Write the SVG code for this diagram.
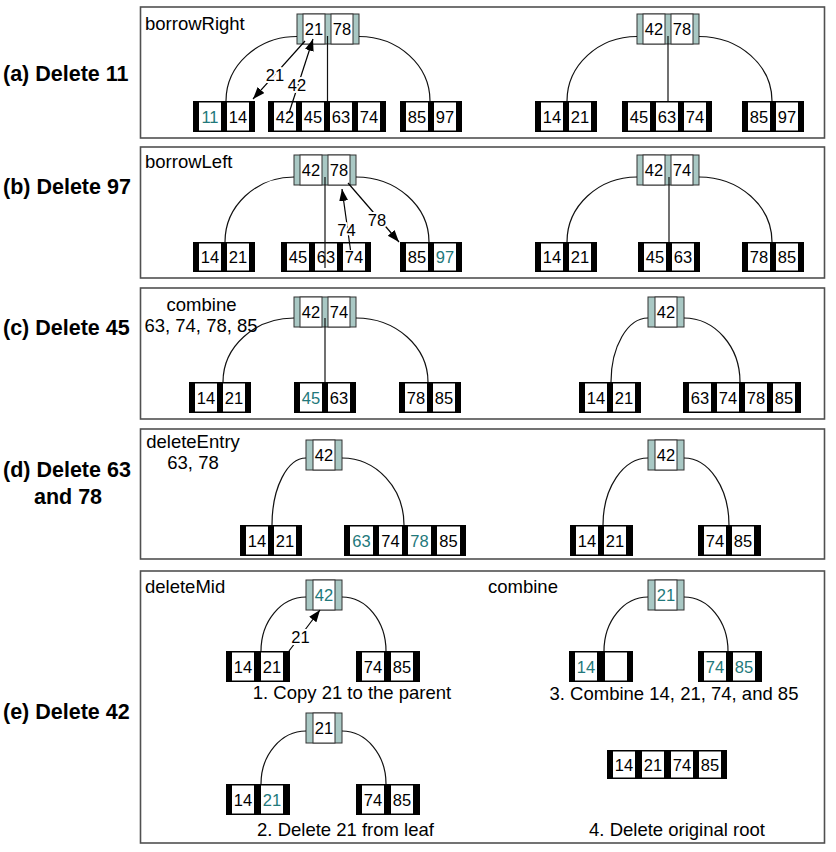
<svg xmlns="http://www.w3.org/2000/svg" width="836" height="852" viewBox="0 0 836 852">
<style>
.panel{fill:#fff;stroke:#505050;stroke-width:1.6}
.inode{fill:#a9c8c4;stroke:#333;stroke-width:1}
.ikey{fill:#fff;stroke:#333;stroke-width:1}
.leaf{fill:#000}
.lkey{fill:#fff}
.k{font-family:"Liberation Sans",Arial,sans-serif;font-size:16.5px;text-anchor:middle;fill:#000}
.t{fill:#22787a}
.lbl{font-family:"Liberation Sans",Arial,sans-serif;font-size:18.5px;fill:#000}
.mid{text-anchor:middle}
.bold{font-family:"Liberation Sans",Arial,sans-serif;font-size:21.5px;font-weight:bold;fill:#000}
.edge{fill:none;stroke:#111;stroke-width:1.2}
.arr{fill:none;stroke:#000;stroke-width:1.2;marker-end:url(#ah)}
.alab{paint-order:stroke;stroke:#fff;stroke-width:4px;stroke-linejoin:round}
</style>
<defs>
<marker id="ah" markerUnits="userSpaceOnUse" markerWidth="13" markerHeight="10" refX="12" refY="4.5" orient="auto">
<path d="M0,0 L12,4.5 L0,9 z" fill="#000"/>
</marker>
</defs>
<rect width="836" height="852" fill="#fff"/>

<g id="panels">
<rect class="panel" x="140.5" y="7" width="684" height="131"/>
<rect class="panel" x="140.5" y="147" width="684" height="131"/>
<rect class="panel" x="140.5" y="288" width="684" height="131"/>
<rect class="panel" x="140.5" y="429" width="684" height="130"/>
<rect class="panel" x="140.5" y="571" width="684" height="272"/>
</g>

<g id="labels">
<text class="bold" x="3" y="80.5">(a) Delete 11</text>
<text class="bold" x="3" y="193.5">(b) Delete 97</text>
<text class="bold" x="3" y="334.5">(c) Delete 45</text>
<text class="bold" x="3" y="476.5">(d) Delete 63</text>
<text class="bold mid" x="68" y="503.5">and 78</text>
<text class="bold" x="3" y="718.5">(e) Delete 42</text>
<text class="lbl" x="145" y="30">borrowRight</text>
<text class="lbl" x="145" y="168">borrowLeft</text>
<text class="lbl mid" x="201.5" y="311">combine</text>
<text class="lbl mid" x="201" y="331.5">63, 74, 78, 85</text>
<text class="lbl mid" x="193" y="448">deleteEntry</text>
<text class="lbl mid" x="193" y="469">63, 78</text>
<text class="lbl" x="145" y="593">deleteMid</text>
<text class="lbl" x="488" y="593">combine</text>
<text class="lbl mid" x="352" y="699">1. Copy 21 to the parent</text>
<text class="lbl mid" x="345.5" y="836">2. Delete 21 from leaf</text>
<text class="lbl mid" x="674" y="700">3. Combine 14, 21, 74, and 85</text>
<text class="lbl mid" x="677" y="836">4. Delete original root</text>
</g>

<!-- (a) left -->
<g id="a-L-root">
<rect class="inode" x="297" y="14" width="62" height="30"/>
<rect class="ikey" x="303" y="14" width="22" height="30"/>
<rect class="ikey" x="331" y="14" width="22" height="30"/>
<text class="k" x="314" y="35">21</text><text class="k" x="342" y="35">78</text>
</g>
<g id="a-L-leaf1">
<rect class="leaf" x="193" y="101" width="62" height="31"/>
<rect class="lkey" x="199" y="102.5" width="22" height="28"/><rect class="lkey" x="227" y="102.5" width="22" height="28"/>
<text class="k t" x="210" y="122.5">11</text><text class="k" x="238" y="122.5">14</text>
</g>
<g id="a-L-leaf2">
<rect class="leaf" x="268" y="101" width="118" height="31"/>
<rect class="lkey" x="274" y="102.5" width="22" height="28"/><rect class="lkey" x="302" y="102.5" width="22" height="28"/>
<rect class="lkey" x="330" y="102.5" width="22" height="28"/><rect class="lkey" x="358" y="102.5" width="22" height="28"/>
<text class="k" x="285" y="122.5">42</text><text class="k" x="313" y="122.5">45</text>
<text class="k" x="341" y="122.5">63</text><text class="k" x="369" y="122.5">74</text>
</g>
<g id="a-L-leaf3">
<rect class="leaf" x="400" y="101" width="62" height="31"/>
<rect class="lkey" x="406" y="102.5" width="22" height="28"/><rect class="lkey" x="434" y="102.5" width="22" height="28"/>
<text class="k" x="417" y="122.5">85</text><text class="k" x="445" y="122.5">97</text>
</g>
<!-- (a) right -->
<g id="a-R-root">
<rect class="inode" x="637" y="14" width="62" height="30"/>
<rect class="ikey" x="643" y="14" width="22" height="30"/>
<rect class="ikey" x="671" y="14" width="22" height="30"/>
<text class="k" x="654" y="35">42</text><text class="k" x="682" y="35">78</text>
</g>
<g id="a-R-leaf1">
<rect class="leaf" x="535" y="101" width="62" height="31"/>
<rect class="lkey" x="541" y="102.5" width="22" height="28"/><rect class="lkey" x="569" y="102.5" width="22" height="28"/>
<text class="k" x="552" y="122.5">14</text><text class="k" x="580" y="122.5">21</text>
</g>
<g id="a-R-leaf2">
<rect class="leaf" x="622" y="101" width="90" height="31"/>
<rect class="lkey" x="628" y="102.5" width="22" height="28"/><rect class="lkey" x="656" y="102.5" width="22" height="28"/>
<rect class="lkey" x="684" y="102.5" width="22" height="28"/>
<text class="k" x="639" y="122.5">45</text><text class="k" x="667" y="122.5">63</text><text class="k" x="695" y="122.5">74</text>
</g>
<g id="a-R-leaf3">
<rect class="leaf" x="742" y="101" width="62" height="31"/>
<rect class="lkey" x="748" y="102.5" width="22" height="28"/><rect class="lkey" x="776" y="102.5" width="22" height="28"/>
<text class="k" x="759" y="122.5">85</text><text class="k" x="787" y="122.5">97</text>
</g>

<!-- (b) left -->
<g id="b-L-root">
<rect class="inode" x="294" y="155" width="62" height="30"/>
<rect class="ikey" x="300" y="155" width="22" height="30"/>
<rect class="ikey" x="328" y="155" width="22" height="30"/>
<text class="k" x="311" y="176">42</text><text class="k" x="339" y="176">78</text>
</g>
<g id="b-L-leaf1">
<rect class="leaf" x="193" y="242" width="62" height="30"/>
<rect class="lkey" x="199" y="243.5" width="22" height="27"/><rect class="lkey" x="227" y="243.5" width="22" height="27"/>
<text class="k" x="210" y="263">14</text><text class="k" x="238" y="263">21</text>
</g>
<g id="b-L-leaf2">
<rect class="leaf" x="281" y="242" width="90" height="30"/>
<rect class="lkey" x="287" y="243.5" width="22" height="27"/><rect class="lkey" x="315" y="243.5" width="22" height="27"/>
<rect class="lkey" x="343" y="243.5" width="22" height="27"/>
<text class="k" x="298" y="263">45</text><text class="k" x="326" y="263">63</text><text class="k" x="354" y="263">74</text>
</g>
<g id="b-L-leaf3">
<rect class="leaf" x="400" y="242" width="62" height="30"/>
<rect class="lkey" x="406" y="243.5" width="22" height="27"/><rect class="lkey" x="434" y="243.5" width="22" height="27"/>
<text class="k" x="417" y="263">85</text><text class="k t" x="445" y="263">97</text>
</g>
<!-- (b) right -->
<g id="b-R-root">
<rect class="inode" x="637" y="155" width="62" height="30"/>
<rect class="ikey" x="643" y="155" width="22" height="30"/>
<rect class="ikey" x="671" y="155" width="22" height="30"/>
<text class="k" x="654" y="176">42</text><text class="k" x="682" y="176">74</text>
</g>
<g id="b-R-leaf1">
<rect class="leaf" x="535" y="242" width="62" height="30"/>
<rect class="lkey" x="541" y="243.5" width="22" height="27"/><rect class="lkey" x="569" y="243.5" width="22" height="27"/>
<text class="k" x="552" y="263">14</text><text class="k" x="580" y="263">21</text>
</g>
<g id="b-R-leaf2">
<rect class="leaf" x="638" y="242" width="62" height="30"/>
<rect class="lkey" x="644" y="243.5" width="22" height="27"/><rect class="lkey" x="672" y="243.5" width="22" height="27"/>
<text class="k" x="655" y="263">45</text><text class="k" x="683" y="263">63</text>
</g>
<g id="b-R-leaf3">
<rect class="leaf" x="742" y="242" width="62" height="30"/>
<rect class="lkey" x="748" y="243.5" width="22" height="27"/><rect class="lkey" x="776" y="243.5" width="22" height="27"/>
<text class="k" x="759" y="263">78</text><text class="k" x="787" y="263">85</text>
</g>

<!-- (c) left -->
<g id="c-L-root">
<rect class="inode" x="294" y="297" width="62" height="30"/>
<rect class="ikey" x="300" y="297" width="22" height="30"/>
<rect class="ikey" x="328" y="297" width="22" height="30"/>
<text class="k" x="311" y="318">42</text><text class="k" x="339" y="318">74</text>
</g>
<g id="c-L-leaf1">
<rect class="leaf" x="189" y="382" width="62" height="31"/>
<rect class="lkey" x="195" y="383.5" width="22" height="28"/><rect class="lkey" x="223" y="383.5" width="22" height="28"/>
<text class="k" x="206" y="403.5">14</text><text class="k" x="234" y="403.5">21</text>
</g>
<g id="c-L-leaf2">
<rect class="leaf" x="294" y="382" width="62" height="31"/>
<rect class="lkey" x="300" y="383.5" width="22" height="28"/><rect class="lkey" x="328" y="383.5" width="22" height="28"/>
<text class="k t" x="311" y="403.5">45</text><text class="k" x="339" y="403.5">63</text>
</g>
<g id="c-L-leaf3">
<rect class="leaf" x="399" y="382" width="62" height="31"/>
<rect class="lkey" x="405" y="383.5" width="22" height="28"/><rect class="lkey" x="433" y="383.5" width="22" height="28"/>
<text class="k" x="416" y="403.5">78</text><text class="k" x="444" y="403.5">85</text>
</g>
<!-- (c) right -->
<g id="c-R-root">
<rect class="inode" x="648" y="297" width="36" height="30"/>
<rect class="ikey" x="655" y="297" width="22" height="30"/>
<text class="k" x="666" y="318">42</text>
</g>
<g id="c-R-leaf1">
<rect class="leaf" x="579" y="382" width="62" height="31"/>
<rect class="lkey" x="585" y="383.5" width="22" height="28"/><rect class="lkey" x="613" y="383.5" width="22" height="28"/>
<text class="k" x="596" y="403.5">14</text><text class="k" x="624" y="403.5">21</text>
</g>
<g id="c-R-leaf2">
<rect class="leaf" x="683" y="382" width="118" height="31"/>
<rect class="lkey" x="689" y="383.5" width="22" height="28"/><rect class="lkey" x="717" y="383.5" width="22" height="28"/>
<rect class="lkey" x="745" y="383.5" width="22" height="28"/><rect class="lkey" x="773" y="383.5" width="22" height="28"/>
<text class="k" x="700" y="403.5">63</text><text class="k" x="728" y="403.5">74</text>
<text class="k" x="756" y="403.5">78</text><text class="k" x="784" y="403.5">85</text>
</g>

<!-- (d) left -->
<g id="d-L-root">
<rect class="inode" x="306" y="440" width="36" height="30"/>
<rect class="ikey" x="313" y="440" width="22" height="30"/>
<text class="k" x="324" y="461">42</text>
</g>
<g id="d-L-leaf1">
<rect class="leaf" x="240" y="525" width="62" height="31"/>
<rect class="lkey" x="246" y="526.5" width="22" height="28"/><rect class="lkey" x="274" y="526.5" width="22" height="28"/>
<text class="k" x="257" y="546.5">14</text><text class="k" x="285" y="546.5">21</text>
</g>
<g id="d-L-leaf2">
<rect class="leaf" x="344" y="525" width="122" height="31"/>
<rect class="lkey" x="350" y="526.5" width="23" height="28"/><rect class="lkey" x="379" y="526.5" width="23" height="28"/>
<rect class="lkey" x="408" y="526.5" width="23" height="28"/><rect class="lkey" x="437" y="526.5" width="23" height="28"/>
<text class="k t" x="361.5" y="546.5">63</text><text class="k" x="390.5" y="546.5">74</text>
<text class="k t" x="419.5" y="546.5">78</text><text class="k" x="448.5" y="546.5">85</text>
</g>
<!-- (d) right -->
<g id="d-R-root">
<rect class="inode" x="648" y="440" width="36" height="30"/>
<rect class="ikey" x="655" y="440" width="22" height="30"/>
<text class="k" x="666" y="461">42</text>
</g>
<g id="d-R-leaf1">
<rect class="leaf" x="570" y="525" width="63" height="31"/>
<rect class="lkey" x="576" y="526.5" width="22" height="28"/><rect class="lkey" x="604" y="526.5" width="22" height="28"/>
<text class="k" x="587" y="546.5">14</text><text class="k" x="615" y="546.5">21</text>
</g>
<g id="d-R-leaf2">
<rect class="leaf" x="698" y="525" width="63" height="31"/>
<rect class="lkey" x="704" y="526.5" width="22" height="28"/><rect class="lkey" x="732" y="526.5" width="22" height="28"/>
<text class="k" x="715" y="546.5">74</text><text class="k" x="743" y="546.5">85</text>
</g>

<!-- (e) left, step 1 -->
<g id="e1-root">
<rect class="inode" x="306" y="580" width="36" height="30"/>
<rect class="ikey" x="313" y="580" width="22" height="30"/>
<text class="k t" x="324" y="601">42</text>
</g>
<g id="e1-leaf1">
<rect class="leaf" x="226" y="651" width="64" height="31"/>
<rect class="lkey" x="232" y="652.5" width="22" height="28"/><rect class="lkey" x="261" y="652.5" width="22" height="28"/>
<text class="k" x="243" y="672.5">14</text><text class="k" x="272" y="672.5">21</text>
</g>
<g id="e1-leaf2">
<rect class="leaf" x="356" y="651" width="64" height="31"/>
<rect class="lkey" x="362" y="652.5" width="22" height="28"/><rect class="lkey" x="391" y="652.5" width="22" height="28"/>
<text class="k" x="373" y="672.5">74</text><text class="k" x="402" y="672.5">85</text>
</g>
<!-- (e) left, step 2 -->
<g id="e2-root">
<rect class="inode" x="306" y="713" width="36" height="30"/>
<rect class="ikey" x="313" y="713" width="22" height="30"/>
<text class="k" x="324" y="734">21</text>
</g>
<g id="e2-leaf1">
<rect class="leaf" x="226" y="784" width="64" height="31"/>
<rect class="lkey" x="232" y="785.5" width="22" height="28"/><rect class="lkey" x="261" y="785.5" width="22" height="28"/>
<text class="k" x="243" y="805.5">14</text><text class="k t" x="272" y="805.5">21</text>
</g>
<g id="e2-leaf2">
<rect class="leaf" x="356" y="784" width="64" height="31"/>
<rect class="lkey" x="362" y="785.5" width="22" height="28"/><rect class="lkey" x="391" y="785.5" width="22" height="28"/>
<text class="k" x="373" y="805.5">74</text><text class="k" x="402" y="805.5">85</text>
</g>
<!-- (e) right, step 3 -->
<g id="e3-root">
<rect class="inode" x="648" y="580" width="36" height="30"/>
<rect class="ikey" x="655" y="580" width="22" height="30"/>
<text class="k t" x="666" y="601">21</text>
</g>
<g id="e3-leaf1">
<rect class="leaf" x="569" y="651" width="64" height="31"/>
<rect class="lkey" x="575" y="652.5" width="22" height="28"/><rect class="lkey" x="605" y="652.5" width="22" height="28"/>
<text class="k t" x="586" y="672.5">14</text>
</g>
<g id="e3-leaf2">
<rect class="leaf" x="698" y="651" width="64" height="31"/>
<rect class="lkey" x="704" y="652.5" width="22" height="28"/><rect class="lkey" x="733" y="652.5" width="22" height="28"/>
<text class="k t" x="715" y="672.5">74</text><text class="k t" x="744" y="672.5">85</text>
</g>
<!-- (e) right, step 4 -->
<g id="e4-leaf">
<rect class="leaf" x="607" y="750" width="120" height="29"/>
<rect class="lkey" x="613" y="751.5" width="22" height="26"/><rect class="lkey" x="642" y="751.5" width="22" height="26"/>
<rect class="lkey" x="671" y="751.5" width="22" height="26"/><rect class="lkey" x="699" y="751.5" width="22" height="26"/>
<text class="k" x="624" y="770.5">14</text><text class="k" x="653" y="770.5">21</text>
<text class="k" x="682" y="770.5">74</text><text class="k" x="710" y="770.5">85</text>
</g>

<g id="connectors">
<!-- (a) -->
<path class="edge" d="M297,36.5 A71,64.5 0 0 0 226,101"/>
<path class="edge" d="M359,36.5 A71,64.5 0 0 1 430,101"/>
<path class="edge" d="M327.5,36 V101"/>
<path class="edge" d="M637,36.5 A70,64.5 0 0 0 567,101"/>
<path class="edge" d="M699,36.5 A73,64.5 0 0 1 772,101"/>
<path class="edge" d="M668,36 V101"/>
<path class="arr" d="M305,41 L253,99"/>
<path class="arr" d="M289,113 L313,39"/>
<text class="k alab" x="275" y="81">21</text>
<text class="k alab" x="297" y="91">42</text>
<!-- (b) -->
<path class="edge" d="M294,177 A69,65 0 0 0 225,242"/>
<path class="edge" d="M356,177 A73,65 0 0 1 429,242"/>
<path class="edge" d="M325,177 V268"/>
<path class="edge" d="M637,177 A70,65 0 0 0 567,242"/>
<path class="edge" d="M699,177 A73,65 0 0 1 772,242"/>
<path class="edge" d="M669,177 V242"/>
<path class="arr" d="M350.5,250 L342,189"/>
<path class="arr" d="M348,183 L399,242"/>
<text class="k alab" x="346.5" y="236">74</text>
<text class="k alab" x="377" y="226">78</text>
<!-- (c) -->
<path class="edge" d="M294,318 A71,64 0 0 0 223,382"/>
<path class="edge" d="M356,318 A72,64 0 0 1 428,382"/>
<path class="edge" d="M325,318 V382"/>
<path class="edge" d="M648,318 A37,64 0 0 0 611,382"/>
<path class="edge" d="M684,318 A56,64 0 0 1 740,382"/>
<!-- (d) -->
<path class="edge" d="M306,458 A34,67 0 0 0 272,525"/>
<path class="edge" d="M342,458 A62,67 0 0 1 404,525"/>
<path class="edge" d="M648,458 A45,67 0 0 0 603,525"/>
<path class="edge" d="M684,458 A45,67 0 0 1 729,525"/>
<!-- (e) -->
<path class="edge" d="M306,597 A45,54 0 0 0 261,651"/>
<path class="edge" d="M342,597 A44,54 0 0 1 386,651"/>
<path class="arr" d="M289,651 L320,610"/>
<text class="k alab" x="300.5" y="643">21</text>
<path class="edge" d="M306,731 A45,53 0 0 0 261,784"/>
<path class="edge" d="M342,731 A44,53 0 0 1 386,784"/>
<path class="edge" d="M648,597 A44,54 0 0 0 604,651"/>
<path class="edge" d="M684,597 A44,54 0 0 1 728,651"/>
</g>
</svg>
